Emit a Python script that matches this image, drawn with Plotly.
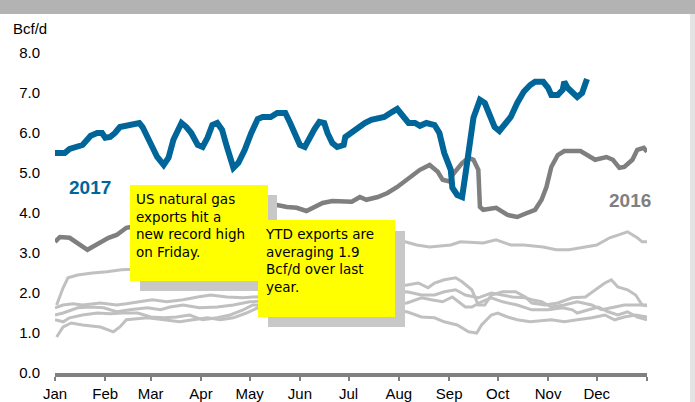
import plotly.graph_objects as go

# ---------------- data (day of year, Bcf/d) ----------------
month_ticks = [0, 31, 59, 90, 120, 151, 181, 212, 243, 273, 304, 334, 365]
month_labels = ["Jan", "Feb", "Mar", "Apr", "May", "Jun", "Jul", "Aug", "Sep", "Oct", "Nov", "Dec", ""]
y_ticks = [0, 1, 2, 3, 4, 5, 6, 7, 8]

days_2017 = [0, 6, 9, 14, 17, 22, 26, 29, 31, 34, 37, 40, 45, 48, 52, 54, 57, 60, 63, 67, 70, 73, 76, 78,
             81, 84, 88, 91, 94, 97, 100, 103, 106, 110, 113, 117, 121, 125, 128, 133, 137, 142, 145, 148,
             151, 154, 157, 160, 163, 166, 168, 171, 174, 178, 179, 183, 187, 191, 195, 199, 203, 208, 211,
             214, 218, 222, 225, 229, 234, 237, 240, 244, 245, 248, 251, 253, 256, 258, 262, 265, 268, 271,
             274, 277, 281, 285, 289, 293, 296, 301, 304, 306, 310, 313, 314, 316, 319, 322, 325, 328]
vals_2017 = [5.50, 5.50, 5.60, 5.68, 5.70, 5.93, 6.00, 6.00, 5.88, 5.90, 6.00, 6.15, 6.20, 6.20, 6.25, 6.15,
             5.88, 5.65, 5.40, 5.20, 5.38, 5.83, 6.13, 6.25, 6.15, 6.00, 5.70, 5.65, 5.88, 6.20, 6.25, 6.08,
             5.65, 5.13, 5.25, 5.58, 6.00, 6.35, 6.40, 6.40, 6.50, 6.50, 6.25, 5.95, 5.70, 5.65, 5.90, 6.10,
             6.28, 6.25, 6.00, 5.75, 5.65, 5.70, 5.90, 6.03, 6.15, 6.25, 6.33, 6.38, 6.40, 6.53, 6.60, 6.45,
             6.25, 6.25, 6.18, 6.25, 6.20, 6.00, 5.50, 5.08, 4.63, 4.45, 4.40, 4.95, 5.78, 6.38, 6.83, 6.75,
             6.45, 6.15, 6.05, 6.20, 6.40, 6.75, 7.03, 7.20, 7.28, 7.28, 7.13, 6.95, 6.95, 7.08, 7.28, 7.13,
             7.00, 6.90, 7.00, 7.35]

days_2016 = [0, 3, 9, 15, 20, 23, 28, 33, 38, 44, 60, 90, 120, 137, 143, 149, 155, 160, 165, 171, 178, 183,
             188, 192, 199, 205, 211, 217, 221, 225, 231, 236, 239, 244, 245, 251, 255, 258, 261, 262, 264,
             272, 279, 285, 291, 296, 300, 303, 306, 310, 314, 324, 333, 340, 344, 348, 351, 356, 359, 363, 365]
vals_2016 = [3.28, 3.40, 3.38, 3.20, 3.08, 3.15, 3.28, 3.38, 3.45, 3.63, 3.75, 3.95, 4.05, 4.20, 4.15, 4.13,
             4.05, 4.15, 4.25, 4.30, 4.28, 4.28, 4.40, 4.33, 4.40, 4.50, 4.65, 4.83, 4.93, 5.08, 5.20, 5.03,
             4.83, 4.78, 4.95, 5.25, 5.38, 5.33, 5.08, 4.15, 4.08, 4.13, 3.95, 3.90, 4.00, 4.08, 4.33, 4.65,
             5.15, 5.45, 5.55, 5.55, 5.33, 5.40, 5.33, 5.13, 5.15, 5.33, 5.58, 5.63, 5.53]

# earlier years (light gray)
days_a = [1, 5, 8, 14, 23, 32, 41, 80, 130, 170, 200, 216, 223, 231, 244, 250, 264, 272, 281, 289, 301, 309,
          317, 326, 334, 342, 353, 359, 362, 365]
vals_a = [1.70, 2.13, 2.38, 2.45, 2.50, 2.53, 2.58, 2.65, 2.80, 2.95, 3.10, 3.28, 3.20, 3.15, 3.20, 3.28,
          3.25, 3.33, 3.20, 3.20, 3.15, 3.08, 3.08, 3.15, 3.20, 3.38, 3.53, 3.38, 3.28, 3.28]

days_b = [0, 5, 11, 17, 28, 38, 44, 52, 60, 69, 79, 88, 96, 106, 116, 122, 170, 217, 224, 230, 234, 240, 247,
          251, 257, 261, 265, 269, 276, 284, 290, 294, 302, 310, 319, 327, 333, 339, 343, 347, 353, 358, 362, 365]
vals_b = [1.63, 1.70, 1.73, 1.70, 1.75, 1.70, 1.73, 1.78, 1.83, 1.78, 1.83, 1.90, 1.95, 1.90, 1.88, 1.90,
          1.95, 2.20, 2.25, 2.13, 2.25, 2.33, 2.38, 2.28, 2.08, 1.70, 1.70, 1.95, 2.03, 2.03, 1.90, 1.75,
          1.70, 1.75, 1.88, 1.90, 2.08, 2.25, 2.33, 2.15, 2.08, 1.95, 1.70, 1.68]

days_c = [0, 5, 14, 22, 30, 38, 46, 57, 65, 71, 79, 89, 100, 110, 120, 170, 217, 226, 234, 240, 247, 253, 261,
          269, 276, 282, 290, 294, 300, 306, 314, 322, 331, 337, 343, 351, 358, 365]
vals_c = [1.45, 1.50, 1.63, 1.65, 1.63, 1.53, 1.58, 1.63, 1.58, 1.65, 1.70, 1.63, 1.65, 1.70, 1.78, 1.90,
          2.03, 1.95, 1.95, 2.03, 2.08, 1.95, 1.88, 2.00, 1.95, 1.90, 1.88, 1.83, 1.78, 1.65, 1.70, 1.78,
          1.70, 1.58, 1.63, 1.70, 1.70, 1.70]

days_d = [0, 5, 9, 17, 26, 34, 42, 51, 59, 67, 75, 83, 91, 100, 108, 116, 122, 170, 217, 226, 232, 239, 245,
          253, 257, 263, 269, 276, 285, 294, 304, 313, 319, 322, 329, 335, 341, 347, 353, 359, 365]
vals_d = [1.33, 1.28, 1.38, 1.45, 1.50, 1.48, 1.50, 1.50, 1.40, 1.38, 1.40, 1.45, 1.33, 1.38, 1.45, 1.58,
          1.70, 1.65, 1.75, 1.88, 1.83, 1.78, 1.90, 1.65, 1.65, 1.78, 1.88, 1.78, 1.70, 1.58, 1.58, 1.63,
          1.58, 1.50, 1.58, 1.65, 1.53, 1.45, 1.53, 1.40, 1.33]

days_e = [1, 5, 10, 17, 28, 36, 40, 44, 57, 69, 77, 85, 94, 102, 110, 118, 125, 170, 217, 226, 234, 240, 248,
          255, 260, 263, 269, 273, 279, 285, 293, 306, 314, 322, 331, 339, 345, 351, 358, 365]
vals_e = [0.90, 1.15, 1.25, 1.20, 1.15, 1.03, 1.15, 1.33, 1.38, 1.33, 1.28, 1.33, 1.38, 1.33, 1.38, 1.50,
          1.63, 1.60, 1.53, 1.40, 1.38, 1.28, 1.20, 1.03, 1.00, 1.20, 1.45, 1.50, 1.40, 1.33, 1.28, 1.33,
          1.28, 1.33, 1.38, 1.45, 1.33, 1.40, 1.45, 1.40]

note_1 = "US natural gas<br>exports hit a<br>new record high<br>on Friday."
note_2 = "YTD exports are<br>averaging 1.9<br>Bcf/d over last<br>year."

# ---------------- figure ----------------
BLUE = "#006699"
DARK = "#7f7f7f"
LIGHT = "#c0c0c0"

fig = go.Figure()
for dx, vy in [(days_a, vals_a), (days_b, vals_b), (days_c, vals_c), (days_d, vals_d), (days_e, vals_e)]:
    fig.add_trace(go.Scatter(x=dx, y=vy, mode="lines", line=dict(color=LIGHT, width=3),
                             showlegend=False, hoverinfo="skip"))
fig.add_trace(go.Scatter(x=days_2016, y=vals_2016, mode="lines", line=dict(color=DARK, width=4.5),
                         showlegend=False))
fig.add_trace(go.Scatter(x=days_2017, y=vals_2017, mode="lines", line=dict(color=BLUE, width=6),
                         showlegend=False))

W, H = 695, 402
L, R, T, B = 55, 48, 53, 29
pw, ph = W - L - R, H - T - B


def px(x):
    return (x - L) / pw


def py(y):
    return (H - B - y) / ph


shapes = [
    # top grey band and right strip
    dict(type="rect", xref="paper", yref="paper", x0=px(0), x1=px(W), y0=py(14), y1=py(0),
         fillcolor="#b3b3b3", line_width=0, layer="above"),
    dict(type="rect", xref="paper", yref="paper", x0=px(690), x1=px(W), y0=py(H), y1=py(14),
         fillcolor="#e3e3e3", line_width=0, layer="above"),
    # note 1 shadow + box
    dict(type="rect", xref="paper", yref="paper", x0=px(140), x1=px(277), y0=py(291), y1=py(195),
         fillcolor="#c8c8c8", line_width=0, layer="above"),
    dict(type="rect", xref="paper", yref="paper", x0=px(130), x1=px(268), y0=py(281), y1=py(185),
         fillcolor="#ffff00", line_width=0, layer="above"),
    # note 2 shadow + box
    dict(type="rect", xref="paper", yref="paper", x0=px(268), x1=px(405), y0=py(327), y1=py(231),
         fillcolor="#c8c8c8", line_width=0, layer="above"),
    dict(type="rect", xref="paper", yref="paper", x0=px(258), x1=px(395), y0=py(317), y1=py(220),
         fillcolor="#ffff00", line_width=0, layer="above"),
]

note_font = dict(family="Comic Sans MS, DejaVu Sans, sans-serif", size=13.5, color="black")
annotations = [
    dict(text="Bcf/d", xref="paper", yref="paper", x=px(11), y=py(28), xanchor="left", yanchor="middle",
         showarrow=False, font=dict(family="Liberation Sans, Arial", size=15, color="black")),
    dict(text="<b>2017</b>", xref="paper", yref="paper", x=px(90), y=py(187), xanchor="center",
         yanchor="middle", showarrow=False, font=dict(family="Liberation Sans, Arial", size=19, color=BLUE)),
    dict(text="<b>2016</b>", xref="paper", yref="paper", x=px(630), y=py(200), xanchor="center",
         yanchor="middle", showarrow=False, font=dict(family="Liberation Sans, Arial", size=19, color=DARK)),
    dict(text=note_1, xref="paper", yref="paper", x=px(134), y=py(189), xanchor="left", yanchor="top",
         align="left", showarrow=False, font=note_font),
    dict(text=note_2, xref="paper", yref="paper", x=px(263), y=py(224), xanchor="left", yanchor="top",
         align="left", showarrow=False, font=note_font),
]

fig.update_layout(
    width=W, height=H,
    margin=dict(l=L, r=R, t=T, b=B, pad=0, autoexpand=False),
    paper_bgcolor="white", plot_bgcolor="white",
    font=dict(family="Liberation Sans, Arial", size=15, color="black"),
    shapes=shapes, annotations=annotations,
    xaxis=dict(range=[0, 365], tickmode="array", tickvals=month_ticks, ticktext=month_labels,
               showgrid=False, zeroline=False, showline=True, linecolor="#808080", linewidth=4,
               ticks="outside", ticklen=4, tickwidth=2, tickcolor="#808080", automargin=False,
               tickfont=dict(size=15, color="black")),
    yaxis=dict(range=[0, 8], tickmode="array", tickvals=y_ticks, tickformat=".1f",
               showgrid=False, zeroline=False, showline=False, ticks="", automargin=False,
               ticklabelstandoff=14, tickfont=dict(size=15, color="black")),
)

fig.write_html(
    "out.html",
    config={"displayModeBar": False, "responsive": False},
    post_script="document.body.style.margin='0px';document.body.style.overflow='hidden';",
)
